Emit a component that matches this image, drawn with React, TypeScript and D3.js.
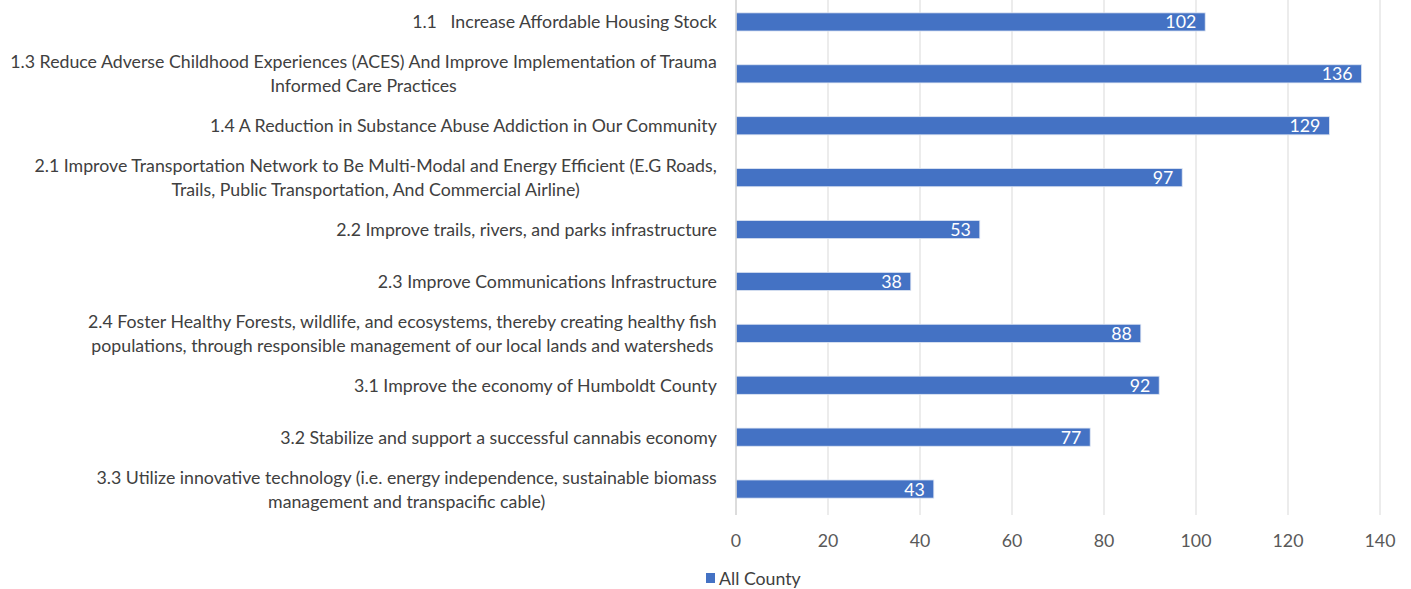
import { useEffect, useRef } from 'react'
import * as d3 from 'd3'

const categories = [
  ['1.1   Increase Affordable Housing Stock'],
  ['1.3 Reduce Adverse Childhood Experiences (ACES) And Improve Implementation of Trauma', 'Informed Care Practices'],
  ['1.4 A Reduction in Substance Abuse Addiction in Our Community'],
  ['2.1 Improve Transportation Network to Be Multi-Modal and Energy Efficient (E.G Roads,', 'Trails, Public Transportation, And Commercial Airline)'],
  ['2.2 Improve trails, rivers, and parks infrastructure'],
  ['2.3 Improve Communications Infrastructure'],
  ['2.4 Foster Healthy Forests, wildlife, and ecosystems, thereby creating healthy fish', 'populations, through responsible management of our local lands and watersheds'],
  ['3.1 Improve the economy of Humboldt County'],
  ['3.2 Stabilize and support a successful cannabis economy'],
  ['3.3 Utilize innovative technology (i.e. energy independence, sustainable biomass', 'management and transpacific cable)'],
]
const values = [102, 136, 129, 97, 53, 38, 88, 92, 77, 43]
const xTicks = [0, 20, 40, 60, 80, 100, 120, 140]
const seriesName = 'All County'

const FONT = 'Lato, "Open Sans", sans-serif'

export default function App() {
  const svgRef = useRef<SVGSVGElement>(null)

  useEffect(() => {
    if (!svgRef.current) return
    document.body.style.margin = '0'

    const svg = d3.select(svgRef.current)
    svg.selectAll('*').remove()

    const left = 736
    const right = 1380
    const top = -4
    const bottom = 515

    const x = d3.scaleLinear().domain([0, 140]).range([left, right])
    const y = d3.scaleBand<number>()
      .domain(d3.range(categories.length))
      .range([top, bottom])
      .paddingInner(0.65)
      .paddingOuter(0.325)

    // measure the widest label to condense text like Calibri
    const probe = svg.append('text')
      .attr('xml:space', 'preserve')
      .style('font-family', FONT)
      .style('font-size', '18px')
      .text(categories[1][0])
    const probeW = (probe.node() as SVGTextElement).getComputedTextLength()
    probe.remove()
    const k = probeW > 0 ? 707 / probeW : 1

    // gridlines
    svg.append('g')
      .selectAll('line')
      .data(xTicks.slice(1))
      .enter()
      .append('line')
      .attr('x1', d => x(d))
      .attr('x2', d => x(d))
      .attr('y1', 0)
      .attr('y2', bottom)
      .style('stroke', '#d9d9d9')
      .style('stroke-width', '1px')

    // bars
    svg.append('g')
      .selectAll('rect')
      .data(values)
      .enter()
      .append('rect')
      .attr('x', x(0))
      .attr('y', (_, i) => y(i)!)
      .attr('width', d => x(d) - x(0))
      .attr('height', y.bandwidth())
      .style('fill', '#4472c4')
      .style('stroke', '#dfe6f3')
      .style('stroke-width', '0.8px')

    // axis line
    svg.append('line')
      .attr('x1', x(0))
      .attr('x2', x(0))
      .attr('y1', 0)
      .attr('y2', bottom)
      .style('stroke', '#d0d0d0')
      .style('stroke-width', '1.5px')

    // data labels
    svg.append('g')
      .selectAll('text')
      .data(values)
      .enter()
      .append('text')
      .attr('transform', (d, i) => `translate(${x(d) - 9},${y(i)! + y.bandwidth() / 2 + 6.5}) scale(${k},1)`)
      .style('text-anchor', 'end')
      .style('font-family', FONT)
      .style('font-size', '18px')
      .style('fill', '#ffffff')
      .text(d => String(d))

    // x tick labels
    svg.append('g')
      .selectAll('text')
      .data(xTicks)
      .enter()
      .append('text')
      .attr('transform', d => `translate(${x(d)},547) scale(${k},1)`)
      .style('text-anchor', 'middle')
      .style('font-family', FONT)
      .style('font-size', '18px')
      .style('fill', '#595959')
      .text(d => String(d))

    // category labels
    const labelRight = 717
    const lineGap = 24
    categories.forEach((lines, i) => {
      const cy = y(i)! + y.bandwidth() / 2
      const g = svg.append('g')
      const texts = lines.map((line, j) =>
        g.append('text')
          .attr('xml:space', 'preserve')
          .style('white-space', 'pre')
          .style('font-family', FONT)
          .style('font-size', '18px')
          .style('fill', '#404040')
          .style('text-anchor', 'middle')
          .text(line)
      )
      const widths = texts.map(t => (t.node() as SVGTextElement).getComputedTextLength() * k)
      const maxW = d3.max(widths) || 0
      texts.forEach((t, j) => {
        const ty = cy + (j - (lines.length - 1) / 2) * lineGap + 6.5
        t.attr('transform', `translate(${labelRight - maxW / 2},${ty}) scale(${k},1)`)
      })
    })

    // legend
    const legend = svg.append('g')
    legend.append('rect')
      .attr('x', 706)
      .attr('y', 573)
      .attr('width', 9)
      .attr('height', 10)
      .style('fill', '#4472c4')
    legend.append('text')
      .attr('transform', `translate(719,584.5) scale(${k},1)`)
      .style('font-family', FONT)
      .style('font-size', '18px')
      .style('fill', '#404040')
      .text(seriesName)
  }, [])

  return <svg ref={svgRef} width={1411} height={589} style={{ display: 'block', background: '#fff' }} />
}
